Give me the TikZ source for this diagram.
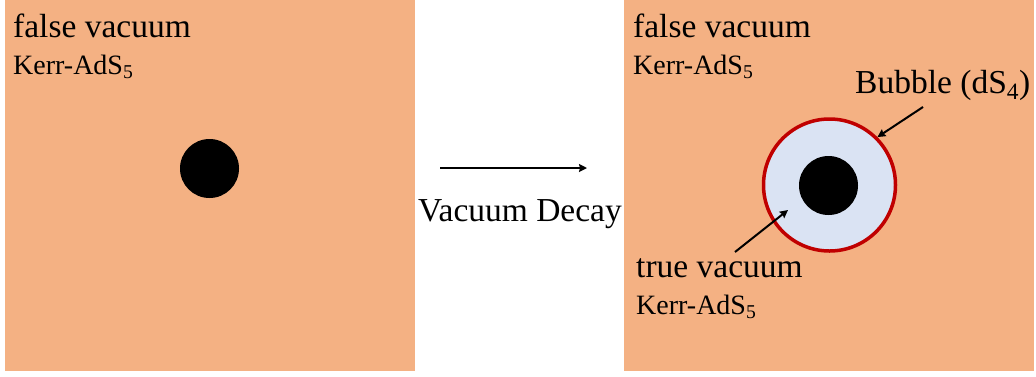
\documentclass[tikz,border=0pt]{standalone}
\usepackage{fontspec}
\setmainfont{Liberation Serif}
\usetikzlibrary{arrows.meta,positioning}
\definecolor{vacorange}{HTML}{F4B183}
\definecolor{bubblefill}{HTML}{DAE3F3}
\definecolor{bubblered}{HTML}{C00000}
\newcommand{\bigtxt}{\fontsize{33.5}{38}\selectfont}
\newcommand{\smalltxt}{\fontsize{28}{32}\selectfont}

\begin{document}
\begin{tikzpicture}[x=1pt,y=-1pt,>={Stealth[length=8pt,width=8pt,inset=1pt]},
    region/.style={fill=vacorange,draw=none,minimum width=410pt,minimum height=371pt,inner sep=0pt,outer sep=0pt},
    hole/.style={circle,fill=black,minimum size=59pt,inner sep=0pt},
    bubble/.style={circle,fill=bubblefill,draw=bubblered,line width=3.5pt,minimum size=132pt,inner sep=0pt},
    lbl/.style={anchor=base west,inner sep=0pt,font=\bigtxt},
    sublbl/.style={anchor=base west,inner sep=0pt,font=\smalltxt},
    pointer/.style={->,line width=2pt}]
    \useasboundingbox (0,0) rectangle (1036,376);
    % the two pictures
    \node[region] (F) at (210,185.5) {};
    \node[region] (T) at (828.5,185.5) {};
    \node[hole] (BH1) at (209.5,168.5) {};
    \node[bubble] (B) at (829.5,185) {};
    \node[hole] (BH2) at (828.5,185.5) {};

    % labels
    \node[lbl] (FV1) at (13,37) {false vacuum};
    \node[sublbl] (K1) at (13,74) {Kerr-AdS\textsubscript{5}};
    \node[lbl] (FV2) at (633,37) {false vacuum};
    \node[sublbl] (K2) at (633,74) {Kerr-AdS\textsubscript{5}};
    \node[lbl] (BL) at (855,93) {Bubble (dS\textsubscript{4})};
    \node[lbl] (TV) at (636,277) {true vacuum};
    \node[sublbl] (K3) at (636,314) {Kerr-AdS\textsubscript{5}};

    % decay arrow
    \coordinate (d1) at (440,168);
    \coordinate (d2) at (587,168);
    \draw[pointer] (d1) -- (d2);
    \node[font=\bigtxt,anchor=base,inner sep=0pt] (VD) at (520,221) {Vacuum Decay};

    % pointers
    \coordinate (bp) at (923,107);
    \coordinate (tp) at (735,252);
    \coordinate (tin) at (788,210);
    \draw[pointer] (bp) -- (B.45);
    \draw[pointer] (tp) -- (tin);
\end{tikzpicture}
\end{document}
